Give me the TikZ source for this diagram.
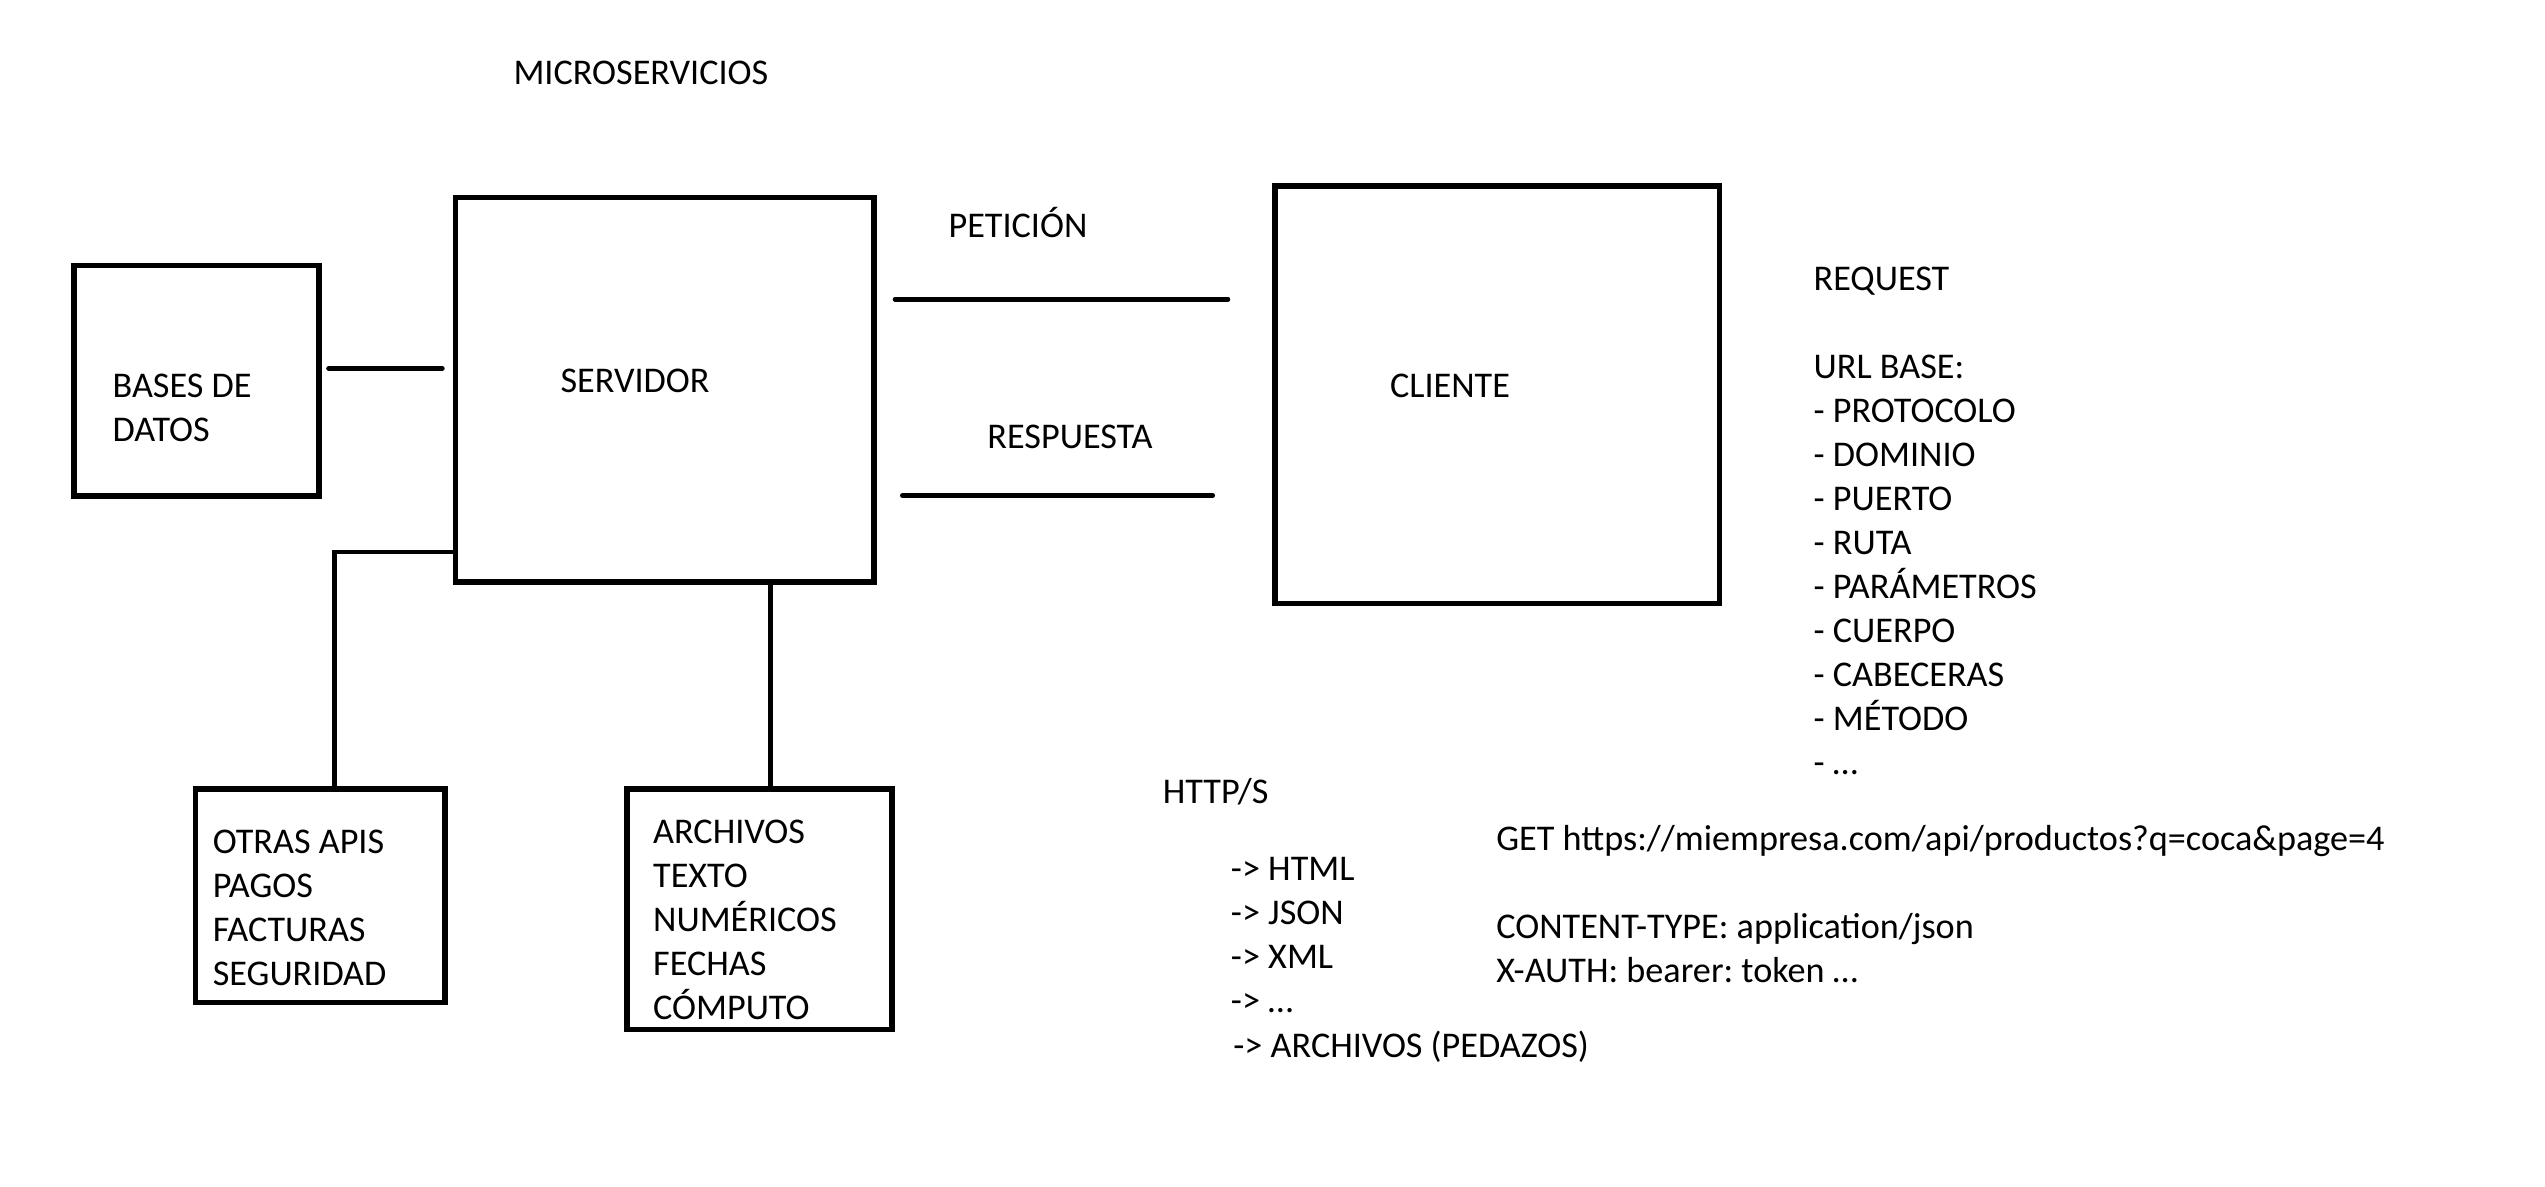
\documentclass[tikz,border=0pt]{standalone}
\usepackage{fontspec}
\setmainfont{Carlito}
\frenchspacing

\begin{document}
\begin{tikzpicture}[
  x=0.5pt, y=-0.5pt,
  box/.style={draw, line width=1.65pt, inner sep=0pt},
  link/.style={line width=1.45pt, line cap=round},
  txt/.style={anchor=base west, inner sep=0pt, font=\fontsize{11.15pt}{13.55pt}\selectfont},
  ]
  % marco de la figura
  \useasboundingbox (0,0) rectangle (1568,730.7);

  % titulo
  \node[txt] (titulo) at (316,52.1) {MICROSERVICIOS};

  % cajas
  \node[box, minimum width=75.5pt, minimum height=71pt] (bd) at (121,234.5) {};
  \node[box, minimum width=129pt, minimum height=118.5pt] (servidor) at (409.5,240) {};
  \node[box, minimum width=137pt, minimum height=128.75pt] (cliente) at (922.5,243.25) {};
  \node[box, minimum width=76.85pt, minimum height=65.65pt] (otras) at (197.35,551.85) {};
  \node[box, minimum width=81.6pt, minimum height=73.95pt] (archivos) at (467.9,560.15) {};

  % textos de las cajas
  \node[txt] (tbd1) at (69,244.6) {BASES DE};
  \node[txt] (tbd2) at (69,271.7) {DATOS};
  \node[txt] (tservidor) at (345,241.6) {SERVIDOR};
  \node[txt] (tcliente) at (856,245.1) {CLIENTE};
  \foreach \t [count=\i] in {OTRAS APIS, PAGOS, FACTURAS, SEGURIDAD}
    \node[txt] (totras\i) at (130.7,{525.7+27.1*(\i-1)}) {\t};
  \foreach \t [count=\i] in {ARCHIVOS, TEXTO, NUMÉRICOS, FECHAS, CÓMPUTO}
    \node[txt] (tarch\i) at (402,{519.5+27.1*(\i-1)}) {\t};

  % conexiones
  \draw[link, shorten <=2.15pt, shorten >=3.15pt] (bd.east |- 0,227) -- (servidor.west |- 0,227);
  \draw[link, shorten <=5.65pt, shorten >=13.65pt] (servidor.east |- 0,184.3) -- (cliente.west |- 0,184.3);
  \draw[link, shorten <=7.9pt, shorten >=18.35pt] (servidor.east |- 0,305.3) -- (cliente.west |- 0,305.3);
  \draw[link] (servidor.west |- 0,340) -| (otras.north -| 206,0);
  \draw[link] (servidor.south -| 474.5,0) -- (archivos.north -| 474.5,0);
  \node[txt] (tpeticion) at (584,146.1) {PETICIÓN};
  \node[txt] (trespuesta) at (608,276.1) {RESPUESTA};

  % partes de la peticion
  % \t---texto de la linea
  % \r---numero de renglon
  \foreach \t/\r in {REQUEST/0, URL BASE:/2, - PROTOCOLO/3, - DOMINIO/4,
    - PUERTO/5, - RUTA/6, - PARÁMETROS/7, - CUERPO/8, - CABECERAS/9,
    - MÉTODO/10, - …/11}
    \node[txt] (req\r) at (1117,{178.8+27.1*\r}) {\t};

  % formatos de la respuesta
  \node[txt] (http) at (716,494.9) {HTTP/S};
  \foreach \t [count=\i] in {-> HTML, -> JSON, -> XML, -> …}
    \node[txt] (fmt\i) at (758,{542.3+27.1*(\i-1)}) {\t};
  \node[txt] (fmt5) at (759.5,651.5) {-> ARCHIVOS (PEDAZOS)};

  % ejemplo
  \node[txt] (get) at (921.5,524.1) {GET https://miempresa.com/api/productos?q=coca\&page=4};
  \node[txt] (ctype) at (921.5,578.3) {CONTENT-TYPE: application/json};
  \node[txt] (xauth) at (921.5,605.4) {X-AUTH: bearer: token …};
\end{tikzpicture}
\end{document}
